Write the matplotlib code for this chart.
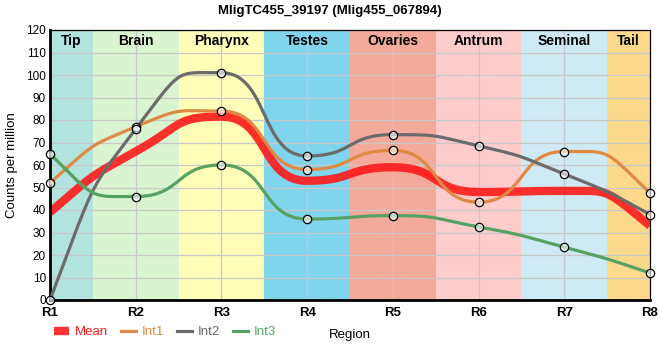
import numpy as np
import matplotlib
matplotlib.use('Agg')
import matplotlib.pyplot as plt

plt.rcParams['font.family'] = ['Liberation Sans', 'DejaVu Sans']

# data
regions = ['R1', 'R2', 'R3', 'R4', 'R5', 'R6', 'R7', 'R8']
bands = ['Tip', 'Brain', 'Pharynx', 'Testes', 'Ovaries', 'Antrum', 'Seminal', 'Tail']
band_colors = ['#b3e3dd', '#d9f5d0', '#fefeb8', '#80d4ec',
               '#f4aa9a', '#fdcccb', '#ceeaf4', '#fdd98c']
mean = [39, 66, 81.5, 53, 59, 48, 48.5, 33]
int1 = [52, 77, 84, 58, 66.5, 43.5, 66, 47.5]
int2 = [0, 76, 101, 64, 73.5, 68.5, 56, 38]
int3 = [65, 46, 60, 36, 37.5, 32.5, 23.5, 12]


def smooth(y, f=0.55, n=60):
    # bezier spline, flat tangent at local extrema (like the web chart)
    y = np.asarray(y, float)
    x = np.arange(len(y), dtype=float)
    s = np.diff(y)
    m = np.zeros(len(y))
    for i in range(1, len(y) - 1):
        if s[i - 1] * s[i] > 0:
            t = (s[i - 1] + s[i]) / 2
            lim = 3 * min(abs(s[i - 1]), abs(s[i]))
            m[i] = np.sign(t) * min(abs(t), lim)
    m[0] = 2 * s[0] - m[1]
    m[-1] = 2 * s[-1] - m[-2]
    xs, ys = [], []
    t = np.linspace(0, 1, n)
    for i in range(len(y) - 1):
        p0 = np.array([x[i], y[i]])
        p1 = np.array([x[i] + f, y[i] + m[i] * f])
        p2 = np.array([x[i + 1] - f, y[i + 1] - m[i + 1] * f])
        p3 = np.array([x[i + 1], y[i + 1]])
        b = ((1 - t) ** 3)[:, None] * p0 + (3 * (1 - t) ** 2 * t)[:, None] * p1 \
            + (3 * (1 - t) * t ** 2)[:, None] * p2 + (t ** 3)[:, None] * p3
        xs.append(b[:, 0])
        ys.append(b[:, 1])
    return np.concatenate(xs), np.concatenate(ys)


fig = plt.figure(figsize=(6.6, 3.6), dpi=100)
ax = fig.add_axes([50 / 660, 60 / 360, 600 / 660, 270 / 360])

xr = np.arange(len(regions))
for i, (b, c) in enumerate(zip(bands, band_colors)):
    ax.axvspan(max(i - 0.5, 0), min(i + 0.5, len(regions) - 1), color=c, lw=0, zorder=0)
    ax.text((max(i - 0.5, 0) + min(i + 0.5, len(regions) - 1)) / 2, 115, b,
            ha='center', va='center', fontsize=10, fontweight='bold', zorder=3)

sx, sy = smooth(mean)
ax.plot(sx, sy, color='#ff1a1a', lw=6, alpha=0.9, solid_capstyle='butt', zorder=2, label='Mean')
series = [(int1, '#de8a45', 'Int1'), (int2, '#6b6b6b', 'Int2'), (int3, '#57a163', 'Int3')]
for vals, col, name in series:
    sx, sy = smooth(vals)
    ax.plot(sx, sy, color=col, lw=2.3, zorder=3, label=name)
for vals, col, name in series:
    ax.plot(xr, vals, 'o', ms=6, mfc=(1, 1, 1, 0.6), mec='black', mew=0.9, zorder=4, clip_on=False)

ax.set_xlim(0, len(regions) - 1)
ax.set_ylim(0, 120)
ax.set_xticks(xr)
ax.set_xticklabels(regions, fontweight='bold', fontsize=9.5)
ax.set_yticks(np.arange(0, 121, 10))
ax.tick_params(axis='y', length=0, pad=3, labelsize=8.5)
ax.tick_params(axis='x', length=0, pad=5)
ax.grid(True, color='#c8c8c8', lw=0.9)
ax.set_axisbelow(True)
for sp in ['left', 'bottom']:
    ax.spines[sp].set_linewidth(2)
for sp in ['top', 'right']:
    ax.spines[sp].set_linewidth(0.9)

ax.set_ylabel('Counts per million', fontsize=9.5, labelpad=6)
ax.set_xlabel('Region', fontsize=9.5, labelpad=7)
fig.suptitle('MligTC455_39197 (Mlig455_067894)', fontsize=9.5, fontweight='bold', y=0.97, va='center')

fig.legend(loc='center left', bbox_to_anchor=(54 / 660, 28 / 360), ncol=4, frameon=False,
           fontsize=9.5, labelcolor='linecolor', handlelength=1.15, handletextpad=0.45,
           columnspacing=0.95, borderpad=0, borderaxespad=0)

fig.savefig('out.png', dpi=100)
